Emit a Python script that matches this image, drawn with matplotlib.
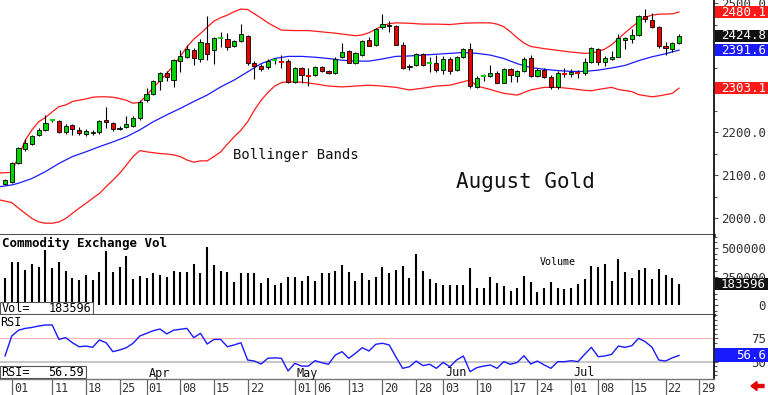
import matplotlib
matplotlib.use('Agg')
import matplotlib.pyplot as plt
import matplotlib.transforms as mtransforms
from matplotlib.patches import Rectangle, FancyArrow
from matplotlib.ticker import MultipleLocator
import numpy as np
import pandas as pd

plt.rcParams['font.family'] = 'DejaVu Sans Mono'

# --- trading calendar (COMEX, Feb 29 .. Jul 29 2024) ---
holidays = ['2024-03-29', '2024-05-27', '2024-06-19', '2024-07-04']
days = pd.bdate_range('2024-02-29', '2024-07-31')
days = days[~days.isin(pd.to_datetime(holidays))]

tick_dates = ['2024-03-01', '2024-03-11', '2024-03-18', '2024-03-25', '2024-04-01',
              '2024-04-08', '2024-04-15', '2024-04-22', '2024-05-01', '2024-05-06',
              '2024-05-13', '2024-05-20', '2024-05-28', '2024-06-03', '2024-06-10',
              '2024-06-17', '2024-06-24', '2024-07-01', '2024-07-08', '2024-07-15',
              '2024-07-22', '2024-07-29']
month_names = ['Apr', 'May', 'Jun', 'Jul']
month_dates = ['2024-04-01', '2024-05-01', '2024-06-03', '2024-07-01']

# --- August gold OHLC ---
opens = [2080, 2085, 2129, 2161, 2173, 2194, 2206, 2226, 2227, 2201,
         2217, 2206, 2196, 2199, 2201, 2229, 2222, 2207, 2213, 2215,
         2234, 2275, 2289, 2320, 2338, 2322, 2367, 2375, 2391, 2371,
         2408, 2392, 2418, 2418, 2401, 2413, 2424, 2362, 2355, 2352,
         2367, 2367, 2366, 2318, 2350, 2332, 2334, 2352, 2343, 2338,
         2375, 2390, 2362, 2381, 2415, 2403, 2445, 2451, 2447, 2403,
         2352, 2357, 2382, 2360, 2362, 2346, 2370, 2346, 2375, 2394,
         2306, 2330, 2332, 2339, 2316, 2348, 2332, 2343, 2373, 2331,
         2345, 2330, 2306, 2339, 2336, 2341, 2338, 2364, 2394, 2365,
         2371, 2376, 2415, 2417, 2427, 2471, 2462, 2446, 2401, 2394,
         2408]
highs = [2092, 2131, 2166, 2185, 2194, 2211, 2241, 2232, 2228, 2219,
         2220, 2212, 2208, 2206, 2230, 2259, 2225, 2216, 2238, 2238,
         2275, 2303, 2322, 2341, 2344, 2370, 2392, 2403, 2396, 2417,
         2471, 2422, 2434, 2432, 2415, 2452, 2427, 2366, 2360, 2370,
         2374, 2380, 2370, 2353, 2353, 2350, 2355, 2355, 2345, 2375,
         2407, 2392, 2388, 2415, 2422, 2443, 2475, 2459, 2450, 2410,
         2360, 2385, 2386, 2376, 2380, 2378, 2376, 2378, 2397, 2407,
         2332, 2337, 2356, 2342, 2351, 2350, 2345, 2376, 2380, 2349,
         2350, 2334, 2343, 2350, 2348, 2346, 2373, 2399, 2397, 2378,
         2390, 2428, 2423, 2440, 2473, 2487, 2477, 2448, 2410, 2410,
         2429]
lows = [2077, 2082, 2126, 2158, 2171, 2192, 2203, 2224, 2199, 2197,
        2195, 2195, 2192, 2193, 2197, 2210, 2203, 2205, 2210, 2212,
        2229, 2271, 2287, 2299, 2319, 2305, 2341, 2374, 2357, 2364,
        2368, 2359, 2399, 2392, 2399, 2410, 2358, 2324, 2343, 2348,
        2360, 2350, 2316, 2314, 2314, 2308, 2332, 2340, 2336, 2336,
        2373, 2361, 2360, 2378, 2400, 2400, 2440, 2434, 2403, 2348,
        2346, 2354, 2354, 2341, 2341, 2336, 2336, 2344, 2373, 2303,
        2303, 2320, 2329, 2314, 2314, 2318, 2318, 2340, 2328, 2329,
        2327, 2302, 2302, 2330, 2328, 2327, 2333, 2361, 2357, 2354,
        2368, 2375, 2395, 2407, 2424, 2457, 2443, 2397, 2380, 2387,
        2406]
closes = [2089, 2129, 2164, 2176, 2192, 2206, 2222, 2228, 2201, 2215,
          2208, 2199, 2203, 2202, 2227, 2224, 2208, 2211, 2219, 2234,
          2271, 2289, 2320, 2338, 2329, 2368, 2378, 2394, 2373, 2410,
          2382, 2419, 2419, 2399, 2413, 2429, 2361, 2355, 2348, 2366,
          2369, 2365, 2318, 2350, 2334, 2331, 2352, 2343, 2338, 2372,
          2387, 2362, 2385, 2413, 2401, 2440, 2452, 2447, 2403, 2350,
          2355, 2382, 2357, 2362, 2346, 2370, 2344, 2375, 2394, 2308,
          2326, 2332, 2338, 2316, 2348, 2334, 2343, 2370, 2331, 2345,
          2329, 2305, 2338, 2337, 2341, 2339, 2365, 2397, 2365, 2373,
          2376, 2419, 2419, 2427, 2471, 2464, 2446, 2400, 2396, 2408,
          2424.8]

# --- Bollinger bands (read at sampled positions, x = trading-day index) ---
upper_x = [-0.74, 0.7, 1, 2, 3, 4, 5, 6, 7, 8, 9, 10, 11, 12, 13, 14, 15, 16, 17, 18,
           19, 20, 21, 22, 23, 24, 25, 26, 27, 28, 29, 30, 31, 32, 33, 34, 35, 36, 37, 38,
           39, 41, 43, 45, 47, 49, 51, 52, 53, 54, 55, 56, 57, 58, 60, 62, 64, 66, 68, 70,
           72, 73, 74, 75, 76, 77, 78, 80, 82, 84, 86, 87, 88, 89, 90, 91, 92, 93, 94, 95,
           96, 97, 99, 100]
upper_y = [2106, 2107, 2109, 2144, 2182, 2206, 2225, 2235, 2248, 2260, 2264, 2272, 2275, 2278,
           2282, 2283, 2283, 2282, 2279, 2275, 2268, 2270, 2286, 2305, 2320, 2338, 2355, 2377,
           2399, 2417, 2430, 2445, 2459, 2467, 2473, 2481, 2487, 2486, 2476, 2466, 2455, 2438,
           2437, 2437, 2434, 2431, 2427, 2425, 2427, 2432, 2440, 2448, 2453, 2455, 2454, 2452,
           2452, 2451, 2454, 2455, 2455, 2452, 2446, 2434, 2420, 2408, 2400, 2395, 2391, 2387,
           2384, 2385, 2388, 2394, 2404, 2418, 2432, 2445, 2458, 2468, 2473, 2475, 2476, 2480.1]
mid_x = [-0.74, 1, 2, 4, 6, 8, 10, 12, 14, 16, 18, 20, 22, 24, 26, 28, 30, 32, 34, 36,
         38, 40, 42, 44, 46, 48, 50, 52, 54, 56, 58, 60, 62, 64, 66, 68, 70, 72, 74, 76,
         78, 80, 82, 84, 86, 88, 90, 92, 94, 96, 98, 100]
mid_y = [2074, 2078, 2082, 2093, 2109, 2128, 2144, 2155, 2167, 2178, 2190, 2206, 2225, 2241,
         2256, 2272, 2287, 2306, 2322, 2341, 2360, 2372, 2377, 2377, 2375, 2372, 2368, 2366,
         2366, 2371, 2377, 2378, 2380, 2382, 2384, 2386, 2384, 2380, 2372, 2360, 2351, 2347,
         2344, 2342, 2342, 2345, 2350, 2356, 2367, 2376, 2383, 2391.6]
lower_x = [-0.74, 1, 2, 3, 4, 5, 6, 7, 8, 9, 10, 11, 12, 13, 14, 15, 16, 17, 18, 19,
           20, 21, 22, 23, 24, 25, 26, 27, 28, 29, 30, 31, 32, 33, 34, 35, 36, 37, 38, 39,
           40, 41, 42, 44, 46, 48, 50, 52, 54, 56, 58, 60, 62, 64, 66, 68, 69, 70, 72, 74,
           76, 78, 80, 82, 84, 86, 87, 88, 90, 91, 93, 94, 96, 97, 99, 100]
lower_y = [2043, 2037, 2024, 2012, 2000, 1992, 1989, 1989, 1992, 2000, 2012, 2024, 2035, 2047,
           2058, 2074, 2089, 2105, 2124, 2144, 2158, 2155, 2153, 2151, 2150, 2148, 2144, 2136,
           2131, 2134, 2134, 2144, 2155, 2173, 2190, 2205, 2225, 2252, 2275, 2293, 2308, 2316,
           2318, 2317, 2313, 2308, 2306, 2308, 2310, 2308, 2305, 2299, 2303, 2308, 2310, 2318,
           2322, 2308, 2300, 2291, 2287, 2299, 2305, 2305, 2302, 2298, 2297, 2300, 2305, 2300,
           2295, 2288, 2283, 2285, 2291, 2303.1]

# --- volume and RSI ---
volume = [237000, 380000, 380000, 307000, 360000, 333000, 482000, 327000, 380000, 298000,
          237000, 219000, 263000, 219000, 289000, 476000, 292000, 336000, 430000, 228000,
          254000, 237000, 283000, 263000, 242000, 301000, 292000, 292000, 360000, 283000,
          512000, 351000, 301000, 289000, 204000, 280000, 280000, 280000, 193000, 237000,
          175000, 196000, 242000, 242000, 210000, 254000, 213000, 280000, 283000, 298000,
          351000, 292000, 210000, 280000, 219000, 248000, 336000, 278000, 307000, 345000,
          234000, 447000, 298000, 228000, 190000, 175000, 175000, 175000, 175000, 322000,
          146000, 146000, 243000, 190000, 167000, 123000, 152000, 257000, 199000, 117000,
          152000, 199000, 146000, 140000, 152000, 181000, 228000, 345000, 330000, 360000,
          213000, 401000, 292000, 234000, 307000, 322000, 228000, 316000, 263000, 240000,
          183596]
rsi = [56, 77.7, 84, 86, 87, 88.6, 89.7, 89.7, 74, 76,
       70.4, 66, 66.8, 65.4, 73.4, 70.4, 60.7, 62.5, 65, 69.8,
       77.7, 80.6, 83.5, 85.3, 80, 84, 85, 86, 75.9, 80.6,
       69, 74, 74, 66, 68, 70.4, 51.6, 50.5, 47.3, 53.5,
       54, 53.5, 39.7, 48, 45, 45, 50.9, 48.7, 47, 57,
       60.7, 53.5, 58.9, 65, 61.4, 68.7, 69.8, 68, 55, 42.6,
       44.3, 50.5, 45.5, 47, 42.6, 49, 44.3, 51.6, 56, 38.9,
       43.3, 45, 46.2, 42.6, 49.8, 47, 49, 56.3, 47.3, 50.5,
       46.2, 42.6, 49.8, 49.8, 50.9, 49.8, 57.8, 65.4, 55.2, 56,
       57.8, 66.8, 65.4, 67.2, 75.2, 71.5, 65.4, 51.6, 50.5, 54,
       56.59]

# ======================================
# layout: three stacked panels, right axis strip
# ======================================
FW, FH = 768, 395
fig = plt.figure(figsize=(FW / 100, FH / 100), dpi=100)
W = 714 / FW
ax = fig.add_axes([0, 1 - 235 / FH, W, 235 / FH])
axv = fig.add_axes([0, 1 - 315 / FH, W, 80 / FH], sharex=ax)
axr = fig.add_axes([0, 1 - 379 / FH, W, 64 / FH], sharex=ax)

idx = np.arange(len(closes))
o = np.array(opens, dtype=float)
h = np.array(highs, dtype=float)
l = np.array(lows, dtype=float)
c = np.array(closes, dtype=float)

GREEN = '#00d400'
RED = '#e80000'
LABEL_C = '#333333'

# --- candles ---
ax.vlines(idx, l, h, color='black', linewidth=0.8, zorder=2)
doji = np.abs(c - o) <= 2
up = (c >= o) & ~doji
dn = (c < o) & ~doji
ax.bar(idx[up], (c - o)[up], bottom=o[up], width=0.62, color=GREEN,
       edgecolor='black', linewidth=0.6, zorder=3)
ax.bar(idx[dn], (o - c)[dn], bottom=c[dn], width=0.62, color=RED,
       edgecolor='black', linewidth=0.6, zorder=3)
for i in idx[doji]:
    ax.hlines(c[i], i - 0.38, i + 0.38, color=GREEN if c[i] >= o[i] else RED,
              linewidth=1.4, zorder=3)

# --- Bollinger bands ---
ax.plot(upper_x, upper_y, color='#ff1a1a', linewidth=0.9, zorder=1)
ax.plot(lower_x, lower_y, color='#ff1a1a', linewidth=0.9, zorder=1)
ax.plot(mid_x, mid_y, color='#1a1aff', linewidth=0.9, zorder=1)

ax.text(233 / 714, 1 - 155 / 235, 'Bollinger Bands', transform=ax.transAxes,
        fontsize=10, va='center', ha='left', color='#111111')
ax.text(456 / 714, 1 - 182 / 235, 'August Gold', transform=ax.transAxes,
        fontsize=15, va='center', ha='left', color='#111111')

# --- volume ---
axv.vlines(idx, 0, volume, color='black', linewidth=1.5)
axv.text(0.003, 1 - 8 / 80, 'Commodity Exchange Vol', transform=axv.transAxes,
         fontsize=9, fontweight='bold', va='center', ha='left')
axv.text(540 / 714, 1 - 27 / 80, 'Volume', transform=axv.transAxes,
         fontsize=7.2, va='center', ha='left')
axv.add_patch(Rectangle((0, 1 / 80), 93 / 714, 12 / 80, transform=axv.transAxes,
                        facecolor='white', edgecolor='#555555', linewidth=0.8, zorder=4))
axv.text(0.002, 7 / 80, 'Vol=', transform=axv.transAxes, fontsize=8.5,
         va='center', ha='left', zorder=5)
axv.text(91 / 714, 7 / 80, f'{volume[-1]}', transform=axv.transAxes, fontsize=8.5,
         va='center', ha='right', zorder=5)

# --- RSI ---
axr.axhline(75, color='#ffb4b4', linewidth=0.8)
axr.axhline(50, color='#bdbdbd', linewidth=1.2)
axr.plot(idx, rsi, color='#1a1aff', linewidth=1.0)
axr.text(0.0, 1 - 7 / 64, 'RSI', transform=axr.transAxes, fontsize=8.5,
         va='center', ha='left')
axr.add_patch(Rectangle((0, 1 / 64), 86 / 714, 12 / 64, transform=axr.transAxes,
                        facecolor='white', edgecolor='#555555', linewidth=0.8, zorder=4))
axr.text(0.002, 7 / 64, 'RSI=', transform=axr.transAxes, fontsize=8.5,
         va='center', ha='left', zorder=5)
axr.text(84 / 714, 7 / 64, f'{rsi[-1]:.2f}', transform=axr.transAxes, fontsize=8.5,
         va='center', ha='right', zorder=5)

# --- axis limits ---
ax.set_xlim(-0.742, 105.19)
ax.set_ylim(1961.6, 2508.1)
axv.set_ylim(-87719, 614035)
axr.set_ylim(30.98, 100.54)

# --- spines and ticks ---
for a in (ax, axv, axr):
    a.spines['left'].set_visible(False)
    a.spines['top'].set_visible(False)
    a.spines['right'].set_color('black')
    a.spines['right'].set_linewidth(1.2)
    a.yaxis.tick_right()
    a.tick_params(axis='y', which='both', direction='out', length=3, width=0.8,
                  color='#555555', labelcolor=LABEL_C, labelsize=9, pad=34.4)
    a.tick_params(axis='y', which='minor', length=2)
for a in (ax, axv):
    a.spines['bottom'].set_color('#3a3a3a')
    a.spines['bottom'].set_linewidth(2)
    a.tick_params(axis='x', which='both', bottom=False, labelbottom=False)
axr.spines['bottom'].set_color('#777777')
axr.spines['bottom'].set_linewidth(1)

# 2300 / 2400 labels sit fully behind the value tags, so they are left unlabeled
price_ticks = [2000, 2100, 2200, 2300, 2400, 2500]
price_labels = ['' if p in (2300, 2400) else f'{p:.1f}' for p in price_ticks]
ax.set_yticks(price_ticks, price_labels, ha='right')
ax.yaxis.set_minor_locator(MultipleLocator(50))
vol_ticks = [0, 250000, 500000]
axv.set_yticks(vol_ticks, [f'{v}' for v in vol_ticks], ha='right')
axv.yaxis.set_minor_locator(MultipleLocator(50000))
axr.set_yticks([50, 75], ['50', '75'], ha='right')
axr.yaxis.set_minor_locator(MultipleLocator(5))

# date row
tick_idx = [days.get_loc(pd.Timestamp(d)) for d in tick_dates]
axr.set_xticks(tick_idx)
axr.tick_params(axis='x', direction='out', length=12, width=0.9, color='#666666',
                labelbottom=False)
blend = mtransforms.blended_transform_factory(axr.transData, axr.transAxes)
for d, t in zip(tick_dates, tick_idx):
    axr.text(t + 0.3, -9 / 64, pd.Timestamp(d).strftime('%d'), transform=blend,
             fontsize=8.5, va='center', ha='left', color=LABEL_C, clip_on=False)
for name, d in zip(month_names, month_dates):
    t = days.get_loc(pd.Timestamp(d))
    axr.text(t + 0.3, 6 / 64, name, transform=blend, fontsize=8.5,
             va='center', ha='left', color='#111111')


# --- value tags in the right strip ---
def tag(a, value, text, color, px_h=12):
    y0, y1 = a.get_ylim()
    h_data = px_h * (y1 - y0) / (a.get_position().height * FH)
    tr = mtransforms.blended_transform_factory(fig.transFigure, a.transData)
    fig.add_artist(Rectangle((715 / FW, value - h_data / 2), 53 / FW, h_data,
                             transform=tr, facecolor=color, edgecolor='none', zorder=1))
    fig.text(766 / FW, value, text, transform=tr, color='white', fontsize=9,
             ha='right', va='center', zorder=3)


tag(ax, upper_y[-1], f'{upper_y[-1]:.1f}', '#ff1a1a')
tag(ax, closes[-1], f'{closes[-1]:.1f}', '#111111')
tag(ax, mid_y[-1], f'{mid_y[-1]:.1f}', '#1a1aff')
tag(ax, lower_y[-1], f'{lower_y[-1]:.1f}', '#ff1a1a')
tag(axv, volume[-1], f'{volume[-1]}', '#111111')
tag(axr, rsi[-1], f'{rsi[-1]:.1f}', '#1a1aff', px_h=14)

# red arrow bottom right
fig.add_artist(FancyArrow(764 / FW, 1 - 386 / FH, -7 / FW, 0, width=3 / FH,
                          head_width=9 / FH, head_length=6 / FW,
                          length_includes_head=False, transform=fig.transFigure,
                          color='#e80000'))

fig.savefig('out.png', dpi=100)
plt.close()
